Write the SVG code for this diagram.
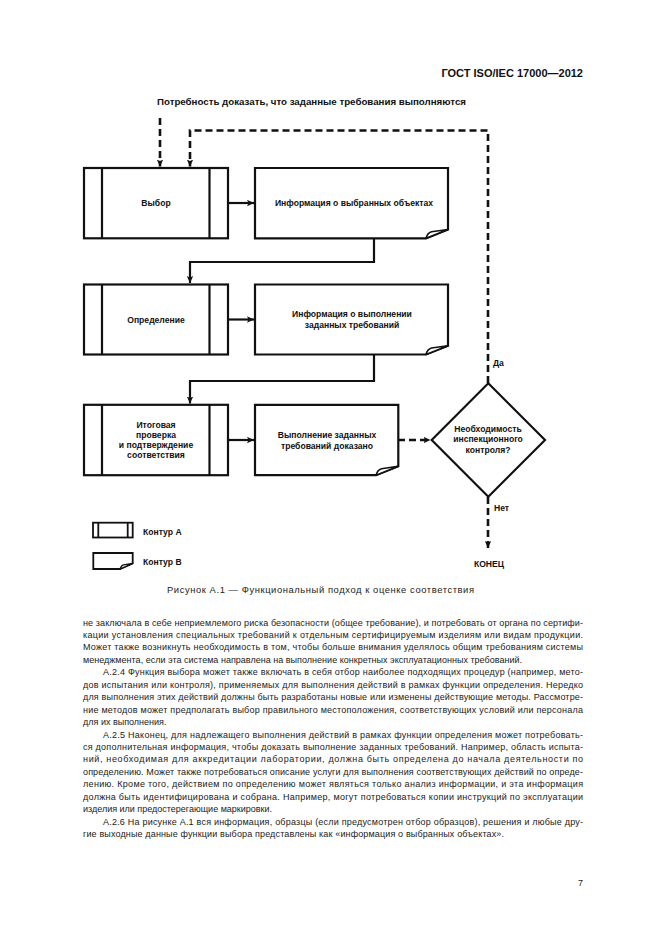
<svg xmlns="http://www.w3.org/2000/svg" width="661" height="936" viewBox="0 0 661 936">
<style>
.bg{fill:#fff}
.box{fill:#fff;stroke:#111;stroke-width:2.2}
.ln{fill:none;stroke:#111;stroke-width:2.2}
.curl{fill:#fff;stroke:#111;stroke-width:1.6;stroke-linejoin:round}
.sol{fill:none;stroke:#111;stroke-width:2.2}
.dash{fill:none;stroke:#111;stroke-width:2.6;stroke-dasharray:7 4}
.t{font-family:"Liberation Sans",Arial,sans-serif;font-weight:bold;font-size:8.6px;fill:#111;text-anchor:middle}
.lab{font-family:"Liberation Sans",Arial,sans-serif;font-weight:bold;font-size:8.6px;fill:#111}
.hdr{font-family:"Liberation Sans",Arial,sans-serif;font-weight:bold;font-size:11px;fill:#111;text-anchor:end}
.cap{font-family:"Liberation Sans",Arial,sans-serif;font-size:9.4px;fill:#222}
.b{font-family:"Liberation Sans",Arial,sans-serif;font-size:9px;fill:#1a1a1a}
</style>
<defs>
<marker id="ah" markerUnits="userSpaceOnUse" markerWidth="8" markerHeight="8" refX="7" refY="3.5" orient="auto">
<path d="M0,0.3 L7,3.5 L0,6.7 L1.5,3.5 Z" fill="#111"/>
</marker>
</defs>
<rect class="bg" x="0" y="0" width="661" height="936"/>

<text class="hdr" x="583" y="77.3">ГОСТ ISO/IEC 17000—2012</text>
<text class="lab" x="157" y="105" textLength="309" lengthAdjust="spacingAndGlyphs">Потребность доказать, что заданные требования выполняются</text>

<g id="connectors">
<path class="dash" d="M160,118 V166.5" marker-end="url(#ah)"/>
<path class="dash" d="M488,383 V130.5 H190 V166.5" marker-end="url(#ah)"/>
<path class="sol" d="M228,203 H254" marker-end="url(#ah)"/>
<path class="sol" d="M374,238.3 V262 H190 V283" marker-end="url(#ah)"/>
<path class="sol" d="M228,319.5 H254" marker-end="url(#ah)"/>
<path class="sol" d="M374,354.5 V381 H190 V403.5" marker-end="url(#ah)"/>
<path class="sol" d="M228,440 H254" marker-end="url(#ah)"/>
<path class="dash" d="M398,440 H430.5" marker-end="url(#ah)"/>
<path class="dash" d="M488,497 V548" marker-end="url(#ah)"/>
</g>

<g id="n-vybor">
<rect class="box" x="84" y="168" width="144" height="70.3"/>
<path class="ln" d="M102,168 V238.3 M209.5,168 V238.3"/>
<text class="t" x="156" y="206">Выбор</text>
</g>
<g id="n-info-vybr">
<path class="box" d="M255,168 H448 V229.5 L426,238.3 H255 Z"/>
<path class="curl" d="M426,238.3 C427,234.5 428.5,232.6 431.5,231.8 L448,229.5 Z"/>
<text class="t" x="354" y="206">Информация о выбранных объектах</text>
</g>

<g id="n-opred">
<rect class="box" x="84" y="284.5" width="144" height="70"/>
<path class="ln" d="M102,284.5 V354.5 M209.5,284.5 V354.5"/>
<text class="t" x="156" y="322.5">Определение</text>
</g>
<g id="n-info-vyp">
<path class="box" d="M255,284.5 H448 V345.7 L426,354.5 H255 Z"/>
<path class="curl" d="M426,354.5 C427,350.7 428.5,348.8 431.5,348 L448,345.7 Z"/>
<text class="t" x="352" y="316.5">Информация о выполнении</text>
<text class="t" x="352" y="327.5">заданных требований</text>
</g>

<g id="n-itog">
<rect class="box" x="84" y="404.8" width="144" height="70.4"/>
<path class="ln" d="M102,404.8 V475.2 M209.5,404.8 V475.2"/>
<text class="t" x="156" y="428.3">Итоговая</text>
<text class="t" x="156" y="438.3">проверка</text>
<text class="t" x="156" y="448.3">и подтверждение</text>
<text class="t" x="156" y="458.3">соответствия</text>
</g>
<g id="n-vyp-dok">
<path class="box" d="M255,404.8 H398.3 V466.3 L376,475.2 H255 Z"/>
<path class="curl" d="M376,475.2 C377,471.4 378.5,469.5 381.5,468.7 L398.3,466.3 Z"/>
<text class="t" x="327" y="437.8">Выполнение заданных</text>
<text class="t" x="327" y="448.8">требований доказано</text>
</g>

<g id="n-decision">
<path class="box" d="M488.3,383.3 L545,440 L488.3,496.7 L431.7,440 Z"/>
<text class="t" x="488" y="431.5">Необходимость</text>
<text class="t" x="488" y="442">инспекционного</text>
<text class="t" x="488" y="452.5">контроля?</text>
</g>

<text class="lab" x="493" y="365.5">Да</text>
<text class="lab" x="494" y="510.5">Нет</text>
<g id="n-end">
<text class="t" x="489" y="567">КОНЕЦ</text>
</g>

<g id="legend">
<rect class="box" x="93" y="522.7" width="39.7" height="14.8" style="stroke-width:1.8"/>
<path class="ln" d="M98.3,522.7 V537.5 M127.7,522.7 V537.5" style="stroke-width:1.8"/>
<text class="lab" x="143" y="535">Контур А</text>
<path class="box" d="M93.3,553 H132.7 V563.3 L120,569 H93.3 Z" style="stroke-width:1.8"/>
<path class="curl" d="M120,569 C120.8,566.5 121.8,565.3 123.5,564.8 L132.7,563.3 Z" style="stroke-width:1.3"/>
<text class="lab" x="143" y="565">Контур В</text>
</g>

<text class="cap" x="167" y="592.5" textLength="307" lengthAdjust="spacing">Рисунок А.1 — Функциональный подход к оценке соответствия</text>

<text class="b" x="83" y="625.5" textLength="500" lengthAdjust="spacing">не заключала в себе неприемлемого риска безопасности (общее требование), и потребовать от органа по сертифи-</text>
<text class="b" x="83" y="637.95" textLength="500" lengthAdjust="spacing">кации установления специальных требований к отдельным сертифицируемым изделиям или видам продукции.</text>
<text class="b" x="83" y="650.4" textLength="500" lengthAdjust="spacing">Может также возникнуть необходимость в том, чтобы больше внимания уделялось общим требованиям системы</text>
<text class="b" x="83" y="662.85" textLength="439" lengthAdjust="spacing">менеджмента, если эта система направлена на выполнение конкретных эксплуатационных требований.</text>
<text class="b" x="103" y="675.3" textLength="480" lengthAdjust="spacing">А.2.4  Функция выбора может также включать в себя отбор наиболее подходящих процедур (например, мето-</text>
<text class="b" x="83" y="687.75" textLength="500" lengthAdjust="spacing">дов испытания или контроля), применяемых для выполнения действий в рамках функции определения. Нередко</text>
<text class="b" x="83" y="700.2" textLength="500" lengthAdjust="spacing">для выполнения этих действий должны быть разработаны новые или изменены действующие методы. Рассмотре-</text>
<text class="b" x="83" y="712.65" textLength="500" lengthAdjust="spacing">ние методов может предполагать выбор правильного местоположения, соответствующих условий или персонала</text>
<text class="b" x="83" y="725.1">для их выполнения.</text>
<text class="b" x="103" y="737.55" textLength="480" lengthAdjust="spacing">А.2.5  Наконец, для надлежащего выполнения действий в рамках функции определения может потребовать-</text>
<text class="b" x="83" y="750" textLength="500" lengthAdjust="spacing">ся дополнительная информация, чтобы доказать выполнение заданных требований. Например, область испыта-</text>
<text class="b" x="83" y="762.45" textLength="500" lengthAdjust="spacing">ний, необходимая для аккредитации лаборатории, должна быть определена до начала деятельности по</text>
<text class="b" x="83" y="774.9" textLength="500" lengthAdjust="spacing">определению. Может также потребоваться описание услуги для выполнения соответствующих действий по опреде-</text>
<text class="b" x="83" y="787.35" textLength="500" lengthAdjust="spacing">лению. Кроме того, действием по определению может являться только анализ информации, и эта информация</text>
<text class="b" x="83" y="799.8" textLength="500" lengthAdjust="spacing">должна быть идентифицирована и собрана. Например, могут потребоваться копии инструкций по эксплуатации</text>
<text class="b" x="83" y="812.25">изделия или предостерегающие маркировки.</text>
<text class="b" x="103" y="824.7" textLength="480" lengthAdjust="spacing">А.2.6  На рисунке А.1 вся информация, образцы (если предусмотрен отбор образцов), решения и любые дру-</text>
<text class="b" x="83" y="837.15" textLength="421" lengthAdjust="spacing">гие выходные данные функции выбора представлены как «информация о выбранных объектах».</text>

<text class="b" x="583" y="886" text-anchor="end">7</text>
</svg>
